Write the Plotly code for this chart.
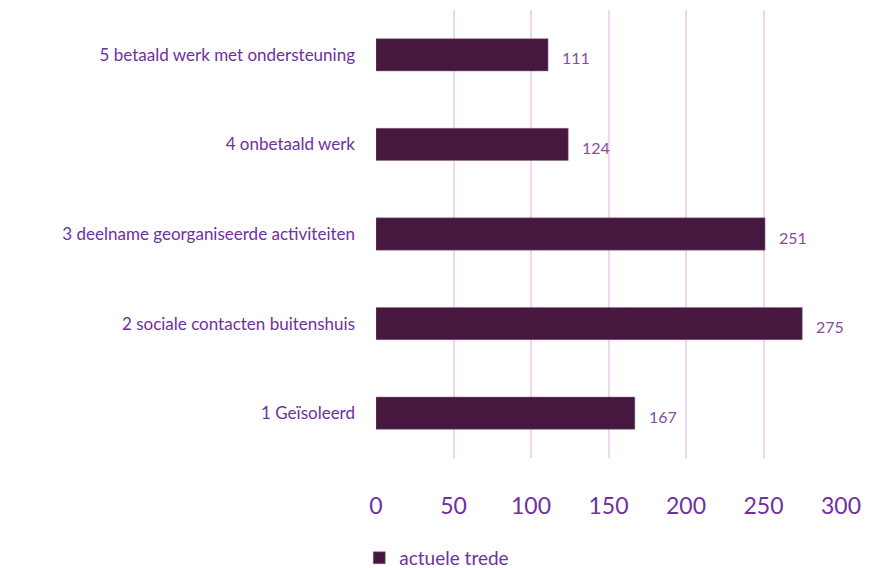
import plotly.graph_objects as go

categories = ["1 Geïsoleerd", "2 sociale contacten buitenshuis", "3 deelname georganiseerde activiteiten",
              "4 onbetaald werk", "5 betaald werk met ondersteuning"]
values = [167, 275, 251, 124, 111]
series_name = "actuele trede"
tick_vals = [0, 50, 100, 150, 200, 250, 300]

FONT = "Lato, Open Sans, sans-serif"
PURPLE = "#7030A0"
BAR = "#461840"

fig = go.Figure()
fig.add_trace(go.Bar(
    y=categories, x=values, orientation="h", name=series_name,
    marker=dict(color=BAR, line=dict(color="#8a6a86", width=0.5)),
    width=0.36, showlegend=True,
))
for c, v in zip(categories, values):
    fig.add_annotation(x=v, y=c, text=str(v), showarrow=False, xanchor="left",
                       xshift=12, yshift=-3, font=dict(family=FONT, size=16, color="#8B4A9C"))

fig.update_layout(
    width=869, height=568,
    margin=dict(l=376, r=28, t=10, b=110, autoexpand=False),
    plot_bgcolor="white", paper_bgcolor="white",
    font=dict(family=FONT, color=PURPLE),
    xaxis=dict(range=[0, 300], tickvals=tick_vals, showgrid=True, gridcolor="#EFD8EF", gridwidth=2,
               zeroline=False, showline=False, ticks="", tickfont=dict(size=23, color=PURPLE),
               ticklabelstandoff=32, automargin=False),
    yaxis=dict(showgrid=False, zeroline=False, showline=False, ticks="",
               tickfont=dict(size=17, color=PURPLE), ticklabelstandoff=20, automargin=False),
    bargap=0.64,
    legend=dict(orientation="h", x=-0.036, xanchor="left", y=-0.223, yanchor="middle",
                font=dict(size=19, color=PURPLE), itemwidth=30),
)
fig.write_html("out.html", config={"displayModeBar": False},
               post_script="document.body.style.margin='0px';")
